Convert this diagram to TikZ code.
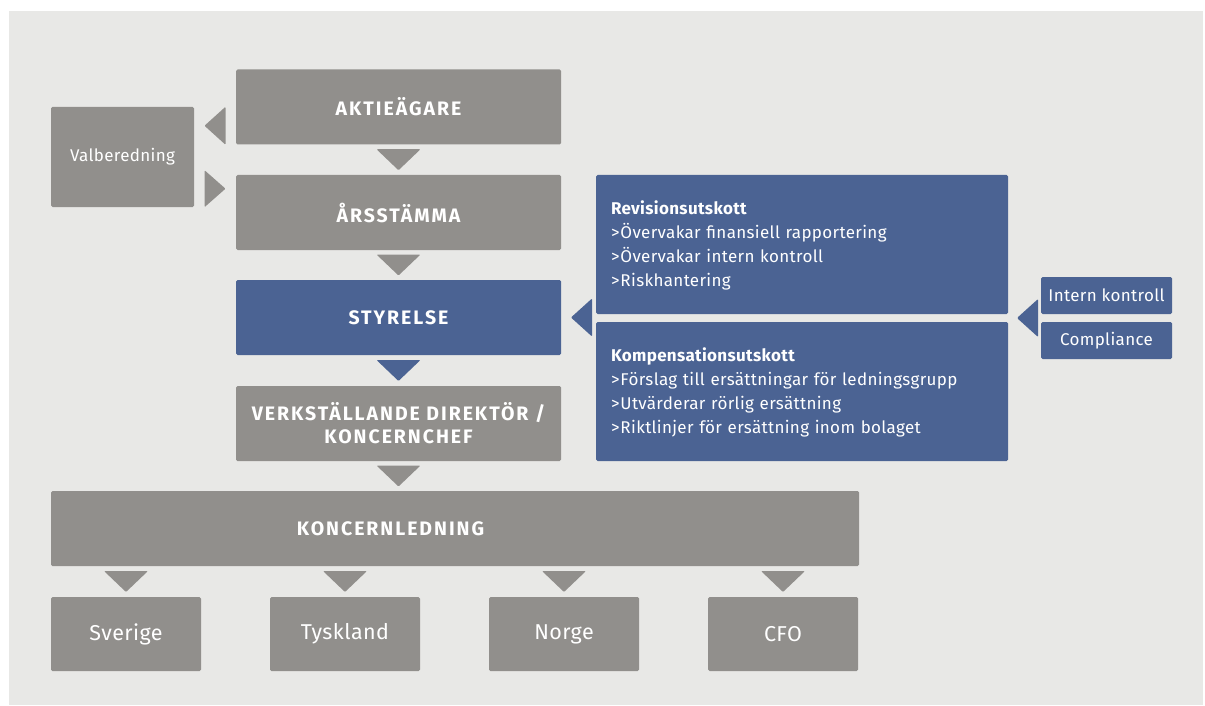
\documentclass[tikz,border=0pt]{standalone}
\usepackage{fontspec}
\setmainfont[LetterSpace=2]{Fira Sans}
\newfontfamily\capsfont[LetterSpace=10]{Fira Sans}
\usepackage{tikz}
\usetikzlibrary{calc,positioning}
\definecolor{bggray}{RGB}{232,232,230}
\definecolor{boxgray}{RGB}{145,143,140}
\definecolor{boxblue}{RGB}{75,99,147}

\begin{document}
\begin{tikzpicture}[x=1pt,y=-1pt,
		box/.style={fill=boxgray, text=white, rounded corners=1.5pt, inner sep=0pt, align=center},
		bigbox/.style={box, minimum width=325pt, minimum height=75pt, font=\capsfont\bfseries\fontsize{19.5}{23}\selectfont},
		smallbox/.style={box, fill=boxblue, minimum width=131pt, minimum height=37pt, font=\fontsize{17}{18}\selectfont},
		listtext/.style={text=white, text width=382pt, align=left, inner sep=0pt, font=\fontsize{17}{24}\selectfont}]
	% Fond
	\useasboundingbox (0,0) rectangle (1205,706);
	\fill[bggray] (9,11) rectangle (1203,705);
	
	% Colonne centrale
	\node[bigbox] (aktie) at (398.5,107) {AKTIEÄGARE};
	\node[bigbox] (arss) at (398.5,212.5) {ÅRSSTÄMMA};
	\node[bigbox, fill=boxblue] (styr) at (398.5,317.5) {STYRELSE};
	\node[bigbox] (vd) at (398.5,423.5) {VERKSTÄLLANDE DIREKTÖR /\\KONCERNCHEF};
	\node[box, minimum width=143pt, minimum height=100pt, font=\fontsize{17}{18}\selectfont] (valb) at (122.5,157) {Valberedning};
	
	% Koncernledning
	\node[box, minimum width=808pt, minimum height=75pt] (koncern) at (455,528.5) {};
	\node[font=\capsfont\bfseries\fontsize{19.5}{23}\selectfont, text=white] (koncerntext) at ([xshift=-8pt]vd |- koncern) {KONCERNLEDNING};
	
	% Pilar nedat
	\foreach \a/\b/\c in {aktie/arss/boxgray, arss/styr/boxgray, styr/vd/boxblue, vd/koncern/boxgray}
		\fill[\c, rounded corners=1pt] ($(\a.south)!0.5!(\b.north -| \a.south)$) ++(-22,-10.5) -- ++(44,0) -- ++(-22,21) -- cycle;
	
	% Dotterbolag
	\foreach \n/\x/\t in {sverige/126/Sverige, tyskland/345/Tyskland, norge/564/Norge, cfo/783/CFO} {
		\node[box, minimum width=150pt, minimum height=74pt, font=\fontsize{21.5}{22}\selectfont] (\n) at (\x,634) {\t};
		\fill[boxgray, rounded corners=1pt] ($(koncern.south -| \n.north)!0.5!(\n.north)$) ++(-22,-10.5) -- ++(44,0) -- ++(-22,21) -- cycle;
	}
	
	% Valberedning pilar
	\fill[boxgray, rounded corners=1pt] ($(valb.east |- aktie.south)!0.5!(aktie.west |- valb.north)$) ++(10.5,-19) -- ++(0,38) -- ++(-21,-19) -- cycle;
	\fill[boxgray, rounded corners=1pt] ($(valb.south east)!0.5!(arss.west |- valb.south)$) ++(-10.5,-37) -- ++(0,37) -- ++(21,-18.5) -- cycle;
	
	% Utskott
	\node[box, fill=boxblue, minimum width=412pt, minimum height=139pt] (revision) at (802,244.5) {};
	\node[box, fill=boxblue, minimum width=412pt, minimum height=139pt] (kompens) at (802,391.5) {};
	\node[listtext] (revtext) at ([yshift=-1pt]revision.center) {\textbf{Revisionsutskott}\\>\kern1pt Övervakar finansiell rapportering\\>\kern1pt Övervakar intern kontroll\\>\kern1pt Riskhantering};
	\node[listtext] (komptext) at ([yshift=-1pt]kompens.center) {\textbf{Kompensationsutskott}\\>\kern1pt Förslag till ersättningar för ledningsgrupp\\>\kern1pt Utvärderar rörlig ersättning\\>\kern1pt Riktlinjer för ersättning inom bolaget};
	\fill[boxblue, rounded corners=1pt] ($(styr.east)!0.5!(revision.west |- styr.east)$) ++(13.5,-19) -- ++(0,38) -- ++(-21,-19) -- cycle;
	
	% Intern kontroll och compliance
	\node[smallbox] (intern) at (1106.5,295.5) {Intern kontroll};
	\node[smallbox] (compl) at (1106.5,340.5) {Compliance};
	\fill[boxblue, rounded corners=1pt] ($(revision.south east)!0.5!(compl.north west)$) ++(13.5,-19) -- ++(0,38) -- ++(-21,-19) -- cycle;
\end{tikzpicture}
\end{document}
